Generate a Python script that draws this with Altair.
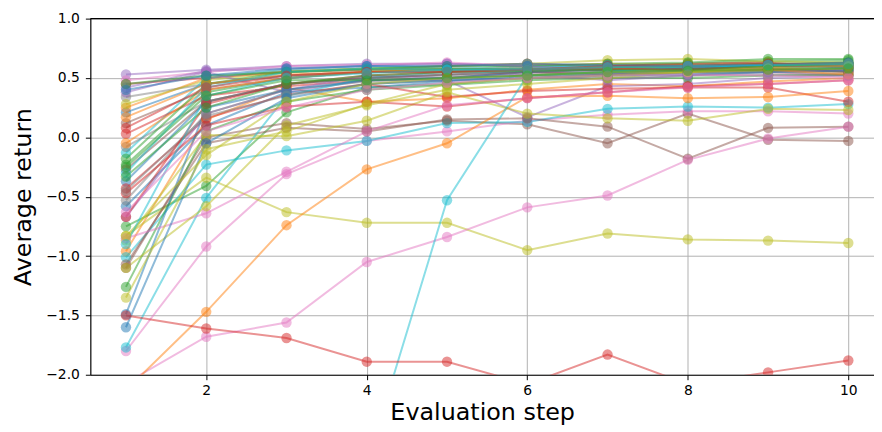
import altair as alt
import pandas as pd

steps = [1, 2, 3, 4, 5, 6, 7, 8, 9, 10]

BLUE, ORANGE, GREEN, RED, PURPLE = "#1f77b4", "#ff7f0e", "#2ca02c", "#d62728", "#9467bd"
BROWN, PINK, GRAY, OLIVE, CYAN = "#8c564b", "#e377c2", "#7f7f7f", "#bcbd22", "#17becf"

series_colors = [
    BLUE, ORANGE, GREEN, RED, PURPLE, BROWN, PINK, GRAY, OLIVE, CYAN,
    BLUE, ORANGE, GREEN, RED, PURPLE, BROWN, PINK, GRAY, OLIVE, CYAN,
    BLUE, ORANGE, GREEN, RED, PURPLE, BROWN, PINK, GRAY, OLIVE, CYAN,
    BLUE, ORANGE, GREEN, RED, PURPLE, BROWN, PINK, GRAY, OLIVE, CYAN,
    BLUE, ORANGE, GREEN, RED, OLIVE, CYAN, BLUE, GREEN, RED, OLIVE,
    CYAN, PINK, GREEN, RED,
]

series_values = [
    [0.21, 0.45, 0.52, 0.55, 0.56, 0.58, 0.57, 0.59, 0.60, 0.61],
    [0.25, 0.50, 0.56, 0.58, 0.57, 0.60, 0.62, 0.61, 0.62, 0.60],
    [-0.23, 0.38, 0.50, 0.55, 0.57, 0.58, 0.60, 0.62, 0.64, 0.65],
    [0.45, 0.50, 0.55, 0.57, 0.60, 0.62, 0.60, 0.62, 0.63, 0.58],
    [0.53, 0.57, 0.60, 0.62, 0.62, 0.60, 0.58, 0.60, 0.62, 0.60],
    [0.12, 0.40, 0.50, 0.55, 0.57, 0.58, 0.58, 0.60, 0.61, 0.62],
    [0.48, 0.55, 0.60, 0.61, 0.63, 0.60, 0.58, 0.57, 0.55, 0.52],
    [0.34, 0.45, 0.52, 0.55, 0.56, 0.57, 0.56, 0.58, 0.58, 0.60],
    [0.28, 0.48, 0.55, 0.58, 0.60, 0.62, 0.65, 0.66, 0.64, 0.63],
    [-0.13, 0.50, 0.57, 0.60, 0.58, 0.60, 0.60, 0.58, 0.62, 0.60],

    [-0.37, 0.30, 0.45, 0.50, 0.53, 0.55, 0.54, 0.57, 0.58, 0.60],
    [-0.96, 0.15, 0.42, 0.30, 0.33, 0.40, 0.45, 0.43, 0.47, 0.50],
    [-0.75, -0.41, 0.21, 0.42, 0.45, 0.50, 0.52, 0.55, 0.57, 0.58],
    [0.03, 0.35, 0.43, 0.48, 0.50, 0.55, 0.53, 0.55, 0.57, 0.56],
    [0.38, 0.55, 0.38, 0.48, 0.48, 0.17, 0.43, 0.45, 0.50, 0.52],
    [-1.10, 0.00, 0.12, 0.07, 0.14, 0.11, -0.05, 0.20, -0.02, -0.03],
    [-1.80, -0.92, -0.31, -0.03, 0.05, 0.14, 0.19, 0.22, 0.22, 0.20],
    [-0.08, 0.30, 0.45, 0.50, 0.52, 0.53, 0.55, 0.55, 0.56, 0.55],
    [-0.83, -0.34, -0.63, -0.72, -0.72, -0.95, -0.81, -0.86, -0.87, -0.89],
    [-1.01, -0.23, -0.11, -0.03, 0.12, 0.13, 0.24, 0.26, 0.25, 0.28],

    [-0.58, 0.10, 0.38, 0.42, 0.47, 0.52, 0.53, 0.55, 0.56, 0.58],
    [-0.05, 0.40, 0.50, 0.55, 0.58, 0.57, 0.60, 0.58, 0.59, 0.55],
    [-1.26, 0.05, 0.30, 0.40, 0.44, 0.48, 0.50, 0.50, 0.52, 0.53],
    [-0.43, 0.16, 0.36, 0.45, 0.34, 0.39, 0.41, 0.42, 0.42, 0.30],
    [-0.67, 0.20, 0.40, 0.52, 0.50, 0.53, 0.48, 0.52, 0.55, 0.57],
    [-1.07, -0.05, 0.08, 0.05, 0.15, 0.16, 0.09, -0.18, 0.08, 0.09],
    [-2.07, -1.68, -1.56, -1.05, -0.84, -0.59, -0.49, -0.19, -0.01, 0.09],
    [-0.53, 0.20, 0.40, 0.47, 0.50, 0.52, 0.53, 0.54, 0.55, 0.53],
    [-0.87, 0.02, 0.01, 0.14, 0.38, 0.20, 0.16, 0.14, 0.24, 0.23],
    [-1.77, -0.51, 0.35, 0.50, 0.55, 0.55, 0.58, 0.58, 0.60, 0.60],

    [-1.49, 0.25, 0.40, 0.48, 0.50, 0.55, 0.57, 0.58, 0.60, 0.59],
    [-2.13, -1.47, -0.74, -0.27, -0.05, 0.34, 0.35, 0.33, 0.34, 0.39],
    [-0.18, 0.45, 0.55, 0.58, 0.60, 0.60, 0.62, 0.63, 0.66, 0.66],
    [-0.47, 0.10, 0.26, 0.30, 0.26, 0.33, 0.38, 0.43, 0.45, 0.48],
    [0.42, 0.56, 0.58, 0.60, 0.62, 0.60, 0.55, 0.55, 0.57, 0.57],
    [-0.27, 0.30, 0.45, 0.50, 0.53, 0.55, 0.57, 0.58, 0.58, 0.55],
    [-0.85, -0.64, -0.29, 0.05, 0.27, 0.33, 0.38, 0.42, 0.45, 0.48],
    [-0.45, 0.18, 0.35, 0.45, 0.48, 0.50, 0.50, 0.52, 0.53, 0.52],
    [-1.10, -0.58, 0.10, 0.27, 0.40, 0.45, 0.50, 0.55, 0.56, 0.58],
    [-4.50, -4.00, -3.50, -2.75, -0.53, 0.52, 0.55, 0.60, 0.60, 0.62],

    [-1.60, -0.05, 0.33, 0.45, 0.48, 0.50, 0.52, 0.53, 0.55, 0.56],
    [0.17, 0.45, 0.53, 0.55, 0.56, 0.58, 0.58, 0.56, 0.57, 0.53],
    [0.45, 0.52, 0.55, 0.57, 0.58, 0.57, 0.59, 0.60, 0.62, 0.63],
    [-0.67, 0.28, 0.45, 0.52, 0.55, 0.57, 0.58, 0.57, 0.60, 0.60],
    [-1.35, -0.10, 0.05, 0.28, 0.45, 0.50, 0.52, 0.55, 0.60, 0.62],
    [-0.30, 0.42, 0.55, 0.58, 0.57, 0.58, 0.60, 0.60, 0.61, 0.62],
    [0.40, 0.52, 0.58, 0.60, 0.60, 0.62, 0.61, 0.60, 0.61, 0.63],
    [-0.33, 0.25, 0.45, 0.52, 0.55, 0.56, 0.57, 0.57, 0.60, 0.62],
    [0.08, 0.42, 0.52, 0.55, 0.55, 0.57, 0.60, 0.60, 0.62, 0.62],
    [-0.83, -0.15, 0.30, 0.45, 0.50, 0.52, 0.55, 0.55, 0.58, 0.60],

    [-0.90, 0.35, 0.50, 0.54, 0.57, 0.57, 0.59, 0.60, 0.61, 0.62],
    [-0.63, 0.05, 0.25, 0.40, 0.46, 0.50, 0.52, 0.53, 0.52, 0.50],
    [-0.25, 0.35, 0.48, 0.48, 0.50, 0.52, 0.55, 0.56, 0.57, 0.58],
    [-1.50, -1.61, -1.69, -1.89, -1.89, -2.08, -1.83, -2.08, -1.98, -1.88],
]

rows = []
for i, (vals, col) in enumerate(zip(series_values, series_colors)):
    for s, v in zip(steps, vals):
        rows.append({"series": i, "step": s, "value": v, "color": col})
df = pd.DataFrame(rows)

FONT = "DejaVu Sans"

x = alt.X("step:Q", title="Evaluation step",
          scale=alt.Scale(domain=[0.556, 10.32], nice=False, zero=False),
          axis=alt.Axis(values=[2, 4, 6, 8, 10], format="d"))
y = alt.Y("value:Q", title="Average return",
          scale=alt.Scale(domain=[-2, 1], nice=False, zero=False),
          axis=alt.Axis(values=[-2, -1.5, -1, -0.5, 0, 0.5, 1], format=".1f"))

base = alt.Chart(df)
lines = base.mark_line(strokeWidth=2, opacity=0.5, clip=True).encode(
    x=x, y=y, detail="series:N", color=alt.Color("color:N", scale=None),
    order="step:Q")
points = base.mark_circle(size=110, opacity=0.5, clip=True).encode(
    x=x, y=y, color=alt.Color("color:N", scale=None))
top = alt.Chart(pd.DataFrame({"v": [1.0]})).mark_rule(color="black", strokeWidth=1.2).encode(
    y=alt.Y("v:Q", scale=alt.Scale(domain=[-2, 1], nice=False, zero=False)))

chart = alt.layer(lines, points, top).properties(
    width=790, height=359,
    autosize=alt.AutoSizeParams(type="none"),
    padding={"left": 83, "top": 9, "right": 0, "bottom": 56},
).configure_view(stroke=None).configure_axis(
    grid=True, gridColor="#b0b0b0", gridWidth=1,
    domainColor="black", domainWidth=1.2,
    tickColor="black", tickSize=5, tickWidth=1,
    labelFont=FONT, labelFontSize=14, labelColor="black",
    titleFont=FONT, titleFontSize=24, titleFontWeight="normal", titleColor="black",
).configure_axisX(titlePadding=3, labelPadding=4).configure_axisY(titlePadding=10, labelPadding=6)

chart.save("out.html", embed_options={"renderer": "svg", "actions": False})
